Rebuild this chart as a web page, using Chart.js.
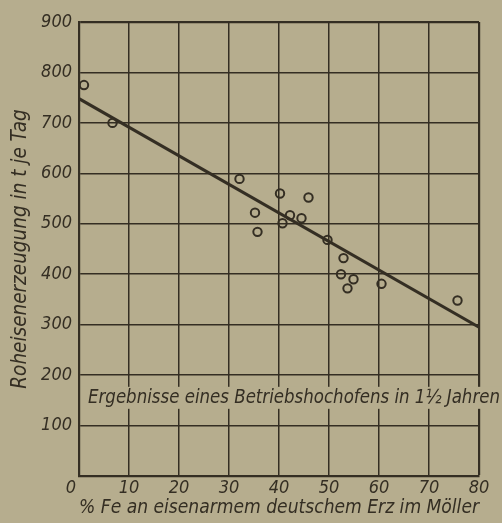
<!DOCTYPE html>
<html>
<head>
<meta charset="utf-8">
<script src="https://cdn.jsdelivr.net/npm/chart.js@4/dist/chart.umd.min.js"></script>
<style>
  html, body { margin: 0; padding: 0; background: #b6ad8e; }
  #wrap { width: 502px; height: 523px; position: relative; }
</style>
</head>
<body>
<div id="wrap"><canvas id="c" width="502" height="523"></canvas></div>
<script>
// Blast furnace output vs. share of lean German ore in the burden
const feShare    = [1.0, 6.7, 32.1, 35.2, 35.7, 40.2, 40.7, 42.2, 44.5, 45.9, 49.7, 52.9, 52.4, 53.7, 54.9, 60.5, 75.7];
const ironOutput = [775, 700, 589, 522, 484, 560, 501, 517, 511, 552, 468, 432, 400, 372, 390, 381, 348];

// Fitted trend line (end points)
const trendX = [0, 80];
const trendY = [748, 295];

const xTicks = [0, 10, 20, 30, 40, 50, 60, 70, 80];
const yTicks = [0, 100, 200, 300, 400, 500, 600, 700, 800, 900];

const xTitle = '% Fe an eisenarmem deutschem Erz im Möller';
const yTitle = 'Roheisenerzeugung in t je Tag';
const note = 'Ergebnisse eines Betriebshochofens in 1½ Jahren';

const INK = '#342e23';
const PAPER = '#b6ad8e';
const FAMILY = '"DejaVu Sans Condensed", "Liberation Sans Narrow", "DejaVu Sans", sans-serif';

const notePlugin = {
  id: 'note',
  afterDraw(chart) {
    const { ctx, scales: { x, y } } = chart;
    const cy = y.getPixelForValue(155);
    const left = x.getPixelForValue(0.4);
    ctx.save();
    ctx.fillStyle = PAPER;
    ctx.fillRect(left, cy - 11, chart.width - left, 22);
    ctx.fillStyle = INK;
    ctx.font = 'italic 19px ' + FAMILY;
    ctx.textBaseline = 'middle';
    ctx.textAlign = 'left';
    const tx = x.getPixelForValue(1.8);
    const target = chart.width - 2 - tx;
    const w = ctx.measureText(note).width;
    ctx.translate(tx, cy);
    ctx.scale(target / w, 1);
    ctx.fillText(note, 0, 0);
    ctx.restore();
  }
};

const gridWidth = (ctx, edge) => (ctx.tick && ctx.tick.value === edge ? 2.2 : 1.5);

new Chart(document.getElementById('c'), {
  type: 'scatter',
  data: {
    datasets: [
      {
        label: 'Messwerte',
        data: feShare.map((v, i) => ({ x: v, y: ironOutput[i] })),
        pointStyle: 'circle',
        pointRadius: 4.2,
        pointBorderWidth: 2,
        pointBorderColor: INK,
        pointBackgroundColor: 'rgba(0,0,0,0)',
        showLine: false
      },
      {
        label: 'Ausgleichsgerade',
        data: trendX.map((v, i) => ({ x: v, y: trendY[i] })),
        showLine: true,
        borderColor: INK,
        borderWidth: 3,
        pointRadius: 0
      }
    ]
  },
  options: {
    responsive: false,
    animation: false,
    devicePixelRatio: 1,
    layout: { padding: { top: 22, right: 23, left: 0, bottom: 0 } },
    plugins: { legend: { display: false }, tooltip: { enabled: false } },
    scales: {
      x: {
        type: 'linear',
        min: 0, max: 80,
        afterBuildTicks: s => { s.ticks = xTicks.map(v => ({ value: v })); },
        afterFit: s => { s.height = 47; },
        grid: { color: INK, lineWidth: c => gridWidth(c, 80), drawTicks: false },
        border: { color: INK, width: 2.2 },
        ticks: {
          color: INK,
          padding: 2,
          maxRotation: 0,
          font: { family: FAMILY, size: 18, style: 'italic' },
          callback: v => (v === 0 ? '0\u2003' : String(v))
        },
        title: {
          display: true,
          text: xTitle,
          color: INK,
          padding: { top: 0, bottom: 3 },
          font: { family: FAMILY, size: 19.5, style: 'italic' }
        }
      },
      y: {
        type: 'linear',
        min: 0, max: 900,
        afterBuildTicks: s => { s.ticks = yTicks.map(v => ({ value: v })); },
        afterFit: s => { s.width = 79; },
        grid: { color: INK, lineWidth: c => gridWidth(c, 900), drawTicks: false },
        border: { color: INK, width: 2.2 },
        ticks: {
          color: INK,
          padding: 7,
          font: { family: FAMILY, size: 18, style: 'italic' },
          callback: v => (v === 0 ? '' : String(v))
        },
        title: {
          display: true,
          text: yTitle,
          color: INK,
          padding: { top: 8, bottom: 0 },
          font: { family: FAMILY, size: 20.5, style: 'italic' }
        }
      }
    }
  },
  plugins: [notePlugin]
});
</script>
</body>
</html>
